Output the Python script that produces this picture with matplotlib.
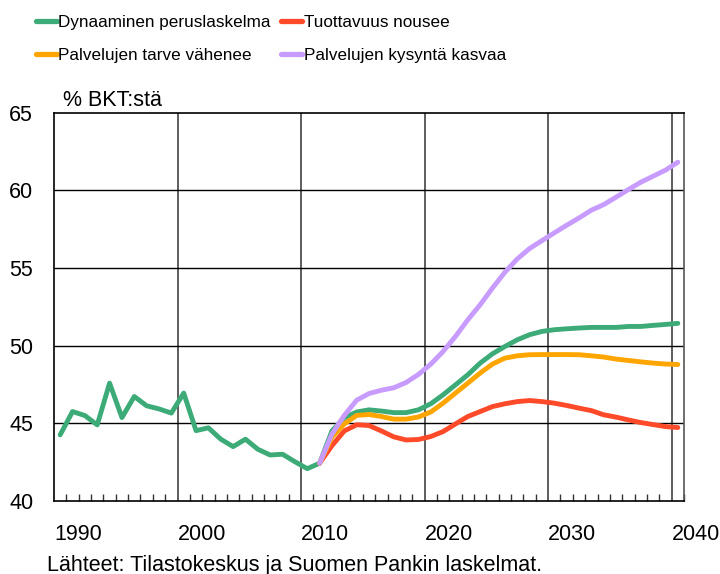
import matplotlib
matplotlib.use("Agg")
import matplotlib.pyplot as plt
import numpy as np

plt.rcParams['font.family'] = ['Liberation Sans', 'DejaVu Sans']

years = list(range(1990, 2041))

hist_years = list(range(1990, 2012))
hist = [44.25, 45.75, 45.49, 44.89, 47.58, 45.36, 46.72, 46.12, 45.92, 45.65,
        46.94, 44.52, 44.70, 43.97, 43.49, 43.97, 43.32, 42.95, 43.0, 42.52,
        42.07, 42.42]

proj_years = list(range(2011, 2041))
green = [42.42, 44.5, 45.35, 45.72, 45.86, 45.78, 45.68, 45.68, 45.86, 46.25,
         46.83, 47.47, 48.12, 48.87, 49.47, 49.94, 50.37, 50.7, 50.91, 51.02,
         51.08, 51.13, 51.17, 51.17, 51.17, 51.23, 51.23, 51.3, 51.36, 51.43]
orange = [42.42, 44.1, 44.95, 45.5, 45.56, 45.43, 45.26, 45.26, 45.4, 45.72,
          46.29, 46.94, 47.58, 48.23, 48.81, 49.19, 49.34, 49.41, 49.42, 49.42,
          49.42, 49.41, 49.34, 49.26, 49.13, 49.04, 48.95, 48.87, 48.81, 48.78]
red = [42.42, 43.55, 44.5, 44.9, 44.85, 44.5, 44.12, 43.92, 43.95, 44.14,
       44.46, 44.95, 45.43, 45.75, 46.07, 46.25, 46.39, 46.46, 46.39, 46.29,
       46.14, 45.97, 45.81, 45.54, 45.39, 45.21, 45.04, 44.91, 44.78, 44.72]
purple = [42.42, 44.3, 45.5, 46.48, 46.91, 47.12, 47.28, 47.62, 48.14, 48.8,
          49.62, 50.59, 51.66, 52.63, 53.71, 54.72, 55.58, 56.25, 56.76, 57.26,
          57.75, 58.22, 58.72, 59.08, 59.56, 60.05, 60.52, 60.91, 61.3, 61.81]

labels = ["Dynaaminen peruslaskelma", "Tuottavuus nousee",
          "Palvelujen tarve vähenee", "Palvelujen kysyntä kasvaa"]
colors = {"green": "#3cab78", "red": "#ff4a2a", "orange": "#ffa500", "purple": "#c89bff"}
xtick_labels = ["1990", "2000", "2010", "2020", "2030", "2040"]
yticks = [40, 45, 50, 55, 60, 65]

fig = plt.figure(figsize=(7.2, 5.74), dpi=100)
ax = fig.add_axes([54/720, 1-500.8/574, (684-54)/720, (500.8-112.7)/574])

first = years[0]
def pos(ys):
    return np.array(ys) - first + 0.5

lw = 3.5
ax.plot(pos(hist_years), hist, color=colors["green"], lw=lw, solid_capstyle='round', zorder=3)
l1, = ax.plot(pos(proj_years), green, color=colors["green"], lw=lw, solid_capstyle='round', zorder=3)
l2, = ax.plot(pos(proj_years), red, color=colors["red"], lw=lw, solid_capstyle='round', zorder=3)
l3, = ax.plot(pos(proj_years), orange, color=colors["orange"], lw=lw, solid_capstyle='round', zorder=3)
l4, = ax.plot(pos(proj_years), purple, color=colors["purple"], lw=lw, solid_capstyle='round', zorder=3)

ax.set_xlim(0, len(years))
ax.set_ylim(40, 65)

for lab in xtick_labels:
    b = int(lab) - first
    if 0 < b < len(years):
        ax.axvline(b, color="#505050", lw=1.3, zorder=1)
for v in yticks[1:-1]:
    ax.axhline(v, color="black", lw=1.0, zorder=1)

ax.set_xticks([int(l) - first for l in xtick_labels])
ax.set_xticklabels(xtick_labels, ha='left')
ax.set_xticks(np.arange(0, len(years) + 1), minor=True)
ax.tick_params(axis='x', which='major', length=0, pad=17, labelsize=15.5)
ax.tick_params(axis='x', which='minor', direction='in', length=5, width=1, color='#333333')
ax.set_yticks(yticks)
ax.tick_params(axis='y', length=0, pad=15, labelsize=15.5)

for s in ['left', 'bottom', 'top']:
    ax.spines[s].set_color('black')
    ax.spines[s].set_linewidth(1.2)
ax.spines['right'].set_color('#555555')
ax.spines['right'].set_linewidth(1.2)

fig.text(63/720, 1-100/574, "% BKT:stä", fontsize=15.5, va='center', ha='left')
fig.text(47/720, 1-565/574, "Lähteet: Tilastokeskus ja Suomen Pankin laskelmat.",
         fontsize=15.5, va='center', ha='left')

fs = 12.3
fpx = fs * 100 / 72
leg = fig.legend([l1, l3, l2, l4], [labels[0], labels[2], labels[1], labels[3]],
                 ncol=2, loc='upper left',
                 bbox_to_anchor=(36/720, 1.0 - 15/574), frameon=False,
                 prop={'size': fs},
                 handlelength=21/fpx, handletextpad=1.5/fpx, columnspacing=10/fpx,
                 labelspacing=1.08, borderaxespad=0, borderpad=0.0)
for h in leg.get_lines():
    h.set_linewidth(3.8)

fig.savefig("out.png", dpi=100)
